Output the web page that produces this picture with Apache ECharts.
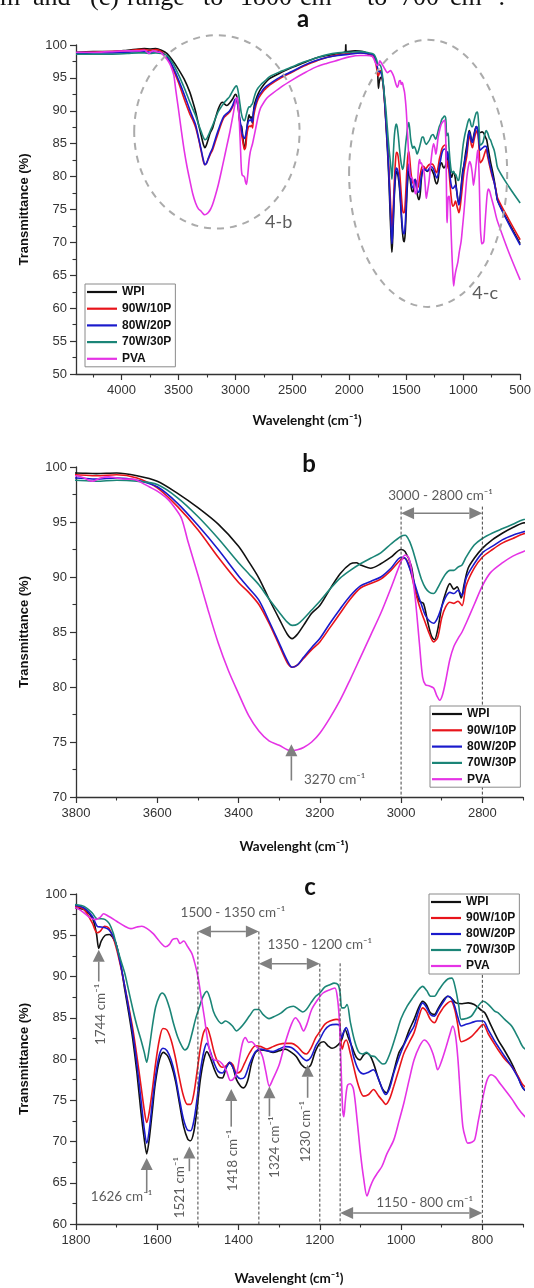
<!DOCTYPE html>
<html><head><meta charset="utf-8">
<script src="https://cdn.jsdelivr.net/npm/echarts@6/dist/echarts.min.js"></script>
<style>html,body{margin:0;padding:0;background:#fff}#c{width:534px;height:1288px}</style>
</head><body><div id="c"></div>
<script>
// ---------------- DATA ----------------
const seriesNames = ['WPI', '90W/10P', '80W/20P', '70W/30P', 'PVA'];
const seriesColors = ['#111111', '#e8141b', '#1a1acc', '#1b8577', '#e533e5'];

// [wavenumber (cm-1), transmittance (%)]
const WPI = [[4400,98.9],[4250,99.0],[4100,99.0],[3950,99.2],[3850,99.4],
[3800,99.45],[3750,99.4],[3700,99.45],[3650,99.2],[3600,98.7],[3550,97.6],[3500,96.3],[3450,94.8],[3400,92.8],[3375,91.4],[3350,89.9],[3325,88.0],[3300,86.2],[3280,84.8],[3268,84.4],[3255,84.8],[3240,85.6],[3220,86.7],[3200,87.4],[3175,88.9],[3150,90.3],[3125,91.2],[3110,91.3],[3100,91.1],[3075,90.8],[3050,91.2],[3025,91.8],[3000,92.5],[2990,92.3],[2975,91.0],[2965,88.8],[2955,87.8],[2945,87.6],[2935,86.0],[2925,84.6],[2918,84.3],[2910,85.2],[2900,87.3],[2890,88.6],[2880,89.4],[2870,88.9],[2862,89.1],[2852,88.1],[2845,89.3],[2835,90.8],[2820,91.7],[2800,92.6],[2775,93.4],[2750,94.0],[2725,94.5],[2700,94.9],
[2600,95.8],[2500,96.6],[2400,97.3],[2300,98.0],[2200,98.4],[2100,98.7],[2035,99.0],[2031,100.2],[2027,99.0],[1950,99.1],[1880,99.0],[1840,98.7],
[1800,98.3],[1780,98.1],[1760,97.1],[1750,95.3],[1744,93.4],[1738,94.3],[1728,95.0],[1718,95.1],[1708,94.6],[1700,93.7],[1690,91.5],[1680,88.4],[1670,85.5],[1660,82.3],[1650,78.3],[1640,73.5],[1632,70.3],[1626,68.5],[1620,70.2],[1612,73.8],[1605,77.0],[1595,79.8],[1585,80.8],[1575,80.4],[1565,79.2],[1555,77.3],[1545,74.5],[1535,71.8],[1525,70.3],[1518,70.1],[1510,71.2],[1502,74.0],[1494,77.5],[1485,80.0],[1478,80.9],[1470,80.2],[1460,78.8],[1450,77.8],[1440,77.7],[1430,79.0],[1422,79.5],[1414,79.0],[1405,77.5],[1395,76.7],[1388,76.5],[1378,77.3],[1368,79.5],[1358,80.8],[1345,81.1],[1330,81.0],[1315,80.8],[1300,81.0],[1285,81.2],[1270,80.8],[1258,80.3],[1245,79.3],[1233,78.9],[1222,79.3],[1212,80.8],[1200,81.9],[1190,82.1],[1180,81.6],[1170,81.3],[1160,81.5],[1150,82.0],[1145,82.5],[1138,83.6],[1130,82.6],[1121,81.5],[1110,80.2],[1101,79.9],[1092,80.5],[1084,80.7],[1076,80.4],[1068,79.5],[1055,77.5],[1045,76.3],[1036,75.9],[1028,76.8],[1018,78.5],[1005,80.8],[993,81.8],[980,83.5],[968,84.8],[957,86.2],[947,87.0],[938,86.6],[928,85.6],[918,85.4],[908,86.2],[895,87.2],[885,87.6],[875,87.3],[865,86.8],[850,86.7],[835,86.8],[820,86.6],[805,86.0],[794,85.6],[780,84.2],[761,82.3],[745,81.0],[728,79.5],[712,77.8],[697,76.3],
[600,73.0],[500,69.8]];

const W90P10 = [[4400,98.8],[4250,98.9],[4100,99.0],[3950,99.1],[3850,99.3],
[3800,99.3],[3750,99.2],[3700,99.3],[3650,99.0],[3600,98.1],[3550,96.4],[3500,94.3],[3450,91.8],[3400,89.5],[3375,88.6],[3350,87.5],[3325,85.8],[3300,83.8],[3280,82.2],[3268,81.8],[3255,82.0],[3240,82.6],[3220,83.4],[3200,84.1],[3175,85.4],[3150,86.7],[3125,88.0],[3100,89.0],[3075,89.4],[3050,89.8],[3025,90.6],[3000,91.6],[2990,91.7],[2980,91.0],[2970,89.5],[2960,88.0],[2950,86.8],[2940,85.8],[2930,84.8],[2920,84.1],[2910,84.5],[2900,86.3],[2890,87.3],[2880,87.7],[2870,87.6],[2860,87.8],[2850,87.4],[2840,89.2],[2820,90.8],[2800,91.8],[2775,92.5],[2750,93.1],[2725,93.5],[2700,93.9],
[2600,95.0],[2500,95.9],[2400,96.8],[2300,97.5],[2200,98.1],[2100,98.5],[2000,98.7],[1900,98.8],[1850,98.7],
[1800,98.5],[1780,98.1],[1760,96.5],[1748,95.3],[1740,95.5],[1730,96.1],[1720,95.9],[1710,94.9],[1700,93.3],[1690,91.2],[1680,88.8],[1670,86.3],[1660,83.6],[1650,80.3],[1640,76.7],[1632,73.8],[1626,72.3],[1620,73.5],[1612,76.3],[1604,79.5],[1595,82.3],[1586,83.7],[1576,83.5],[1566,82.3],[1556,80.3],[1546,77.8],[1536,75.6],[1526,74.5],[1518,74.5],[1510,75.8],[1502,78.5],[1494,81.3],[1486,83.2],[1478,83.8],[1470,82.8],[1460,80.8],[1450,79.5],[1440,79.0],[1430,79.2],[1422,79.6],[1414,79.3],[1405,78.3],[1395,78.5],[1385,79.5],[1372,80.8],[1358,81.6],[1345,81.5],[1330,81.2],[1315,81.5],[1300,81.8],[1285,81.9],[1270,81.9],[1255,81.5],[1242,80.8],[1233,80.6],[1222,81.3],[1210,82.6],[1200,83.3],[1188,84.2],[1175,84.6],[1160,84.8],[1152,84.7],[1148,82.0],[1145,81.2],[1140,82.0],[1135,82.3],[1125,80.7],[1117,79.1],[1105,76.8],[1092,75.5],[1080,75.7],[1068,76.3],[1055,75.5],[1045,74.9],[1038,74.5],[1028,75.2],[1018,76.7],[1005,78.8],[993,80.7],[980,82.0],[968,83.2],[957,85.0],[947,86.2],[938,85.8],[928,84.8],[918,84.4],[908,85.3],[895,86.3],[885,86.8],[877,87.0],[868,86.0],[860,84.0],[852,82.1],[840,82.3],[827,82.7],[812,83.5],[798,84.2],[785,83.0],[770,81.8],[761,81.1],[745,80.0],[728,79.1],[712,77.9],[697,76.7],
[600,73.5],[500,70.4]];

const W80P20 = [[4400,98.7],[4250,98.8],[4100,98.8],[3950,98.9],[3850,99.0],
[3800,99.0],[3750,98.9],[3700,99.0],[3650,98.8],[3600,98.2],[3550,96.7],[3500,94.7],[3450,92.5],[3400,90.1],[3375,89.0],[3350,87.9],[3325,86.0],[3300,84.0],[3280,82.4],[3268,81.8],[3255,82.0],[3240,82.7],[3220,83.6],[3200,84.4],[3175,85.8],[3150,87.1],[3125,88.3],[3100,89.2],[3075,89.6],[3050,90.0],[3025,90.8],[3000,91.8],[2990,91.7],[2980,90.9],[2970,89.8],[2960,88.6],[2950,87.5],[2940,86.5],[2930,86.0],[2920,85.8],[2910,86.3],[2900,87.3],[2890,88.2],[2880,88.6],[2870,88.5],[2860,88.8],[2850,88.3],[2840,89.9],[2820,91.2],[2800,92.2],[2775,92.8],[2750,93.4],[2725,93.8],[2700,94.1],
[2600,95.2],[2500,96.0],[2400,96.9],[2300,97.6],[2200,98.1],[2100,98.4],[2000,98.6],[1900,98.8],[1850,98.7],
[1800,98.6],[1780,98.3],[1760,97.3],[1748,96.1],[1738,96.0],[1728,95.9],[1718,95.6],[1708,94.8],[1700,93.7],[1690,91.4],[1680,88.8],[1670,86.0],[1660,83.0],[1650,79.3],[1640,75.0],[1632,71.5],[1626,69.8],[1620,71.3],[1612,74.8],[1604,78.0],[1595,80.5],[1586,81.3],[1576,81.0],[1566,79.9],[1556,78.0],[1546,75.3],[1536,72.8],[1526,71.4],[1518,71.3],[1510,72.5],[1502,75.2],[1494,78.5],[1485,81.0],[1478,81.9],[1470,81.0],[1460,79.5],[1450,78.5],[1440,78.3],[1430,79.0],[1422,79.6],[1414,79.0],[1405,78.0],[1395,77.6],[1385,77.8],[1372,79.5],[1358,80.9],[1345,81.2],[1330,81.0],[1315,80.9],[1300,81.2],[1285,81.5],[1270,81.4],[1255,80.8],[1242,80.1],[1233,79.8],[1222,80.2],[1210,81.6],[1200,82.4],[1188,83.5],[1175,84.1],[1160,84.2],[1152,84.1],[1147,82.5],[1142,83.2],[1135,83.8],[1125,82.2],[1117,80.3],[1105,78.7],[1092,78.2],[1080,78.4],[1068,78.7],[1055,77.5],[1045,76.2],[1038,75.7],[1028,76.5],[1018,78.3],[1005,80.2],[993,81.7],[980,83.0],[968,84.0],[957,85.8],[947,86.8],[938,86.3],[928,85.4],[918,85.2],[908,86.0],[895,87.0],[885,87.6],[877,87.4],[868,86.4],[860,85.0],[852,84.0],[840,84.2],[827,84.4],[812,84.6],[798,84.6],[785,83.5],[770,82.2],[761,81.5],[745,80.3],[728,79.1],[712,77.7],[697,76.3],
[600,72.8],[500,69.6]];

const W70P30 = [[4400,98.6],[4250,98.6],[4100,98.6],[3950,98.7],[3850,98.8],
[3800,98.8],[3750,98.7],[3700,98.8],[3650,98.7],[3600,98.4],[3550,97.2],[3500,95.5],[3450,93.5],[3400,91.3],[3375,90.3],[3350,89.3],[3325,88.0],[3300,86.8],[3280,85.9],[3268,85.6],[3255,85.7],[3240,86.2],[3220,87.0],[3200,87.8],[3175,88.9],[3150,89.9],[3125,90.6],[3100,91.2],[3075,91.7],[3050,92.2],[3025,93.0],[3000,93.7],[2990,93.8],[2980,93.3],[2970,92.3],[2960,91.0],[2950,89.8],[2940,89.0],[2930,88.6],[2920,88.5],[2910,89.0],[2900,89.7],[2890,90.3],[2880,90.6],[2870,90.6],[2860,90.9],[2850,91.1],[2840,91.8],[2820,92.9],[2800,93.5],[2775,94.0],[2750,94.4],[2725,94.8],[2700,95.2],
[2600,96.0],[2500,96.7],[2400,97.4],[2300,98.0],[2200,98.5],[2100,98.8],[2000,98.9],[1900,99.0],[1850,98.9],
[1800,98.7],[1780,98.5],[1760,97.7],[1748,97.0],[1738,97.0],[1728,96.9],[1718,96.4],[1708,95.2],[1700,93.7],[1690,92.0],[1680,90.4],[1670,88.2],[1660,86.0],[1650,84.0],[1640,82.3],[1632,80.8],[1626,79.6],[1620,81.2],[1612,84.0],[1604,86.3],[1595,87.6],[1588,88.0],[1580,87.6],[1570,86.2],[1560,84.3],[1550,82.7],[1540,81.6],[1532,81.1],[1524,81.5],[1515,83.0],[1506,84.8],[1497,86.2],[1488,87.5],[1478,88.2],[1470,87.3],[1462,85.8],[1452,84.8],[1442,84.3],[1432,84.6],[1424,84.4],[1415,84.0],[1405,83.4],[1395,83.8],[1385,84.4],[1372,85.3],[1360,86.0],[1350,86.0],[1340,85.4],[1325,84.9],[1310,85.2],[1295,85.6],[1280,86.2],[1265,86.4],[1252,86.0],[1242,85.7],[1233,86.0],[1222,86.8],[1210,87.6],[1200,88.0],[1188,88.7],[1175,89.0],[1165,89.2],[1155,89.0],[1150,88.0],[1146,86.2],[1140,86.2],[1133,86.6],[1125,84.5],[1115,82.3],[1105,80.9],[1095,80.6],[1085,80.8],[1075,80.4],[1065,80.3],[1055,79.8],[1045,79.4],[1038,79.5],[1025,81.0],[1012,83.0],[1000,84.9],[985,86.4],[970,87.5],[957,88.4],[947,88.8],[937,88.3],[927,87.6],[918,87.6],[908,88.3],[895,89.2],[885,89.7],[875,89.8],[866,88.5],[858,86.4],[852,84.8],[840,84.9],[827,85.2],[812,86.3],[798,87.0],[785,86.6],[770,85.8],[761,85.6],[745,84.8],[728,84.0],[712,82.6],[697,81.3],
[600,78.5],[500,76.0]];

const PVA = [[4400,98.9],[4250,98.9],[4100,99.0],[3950,99.1],[3850,99.1],
[3800,99.2],[3780,99.0],[3760,98.7],[3740,99.0],[3720,99.1],[3700,99.0],[3680,98.9],[3660,98.9],[3640,98.6],[3620,98.2],[3600,97.8],[3575,97.1],[3555,96.2],[3540,95.3],[3525,93.3],[3500,90.2],[3475,87.0],[3450,84.0],[3425,81.5],[3400,79.4],[3375,77.4],[3350,76.0],[3325,75.1],[3300,74.7],[3280,74.3],[3270,74.2],[3255,74.3],[3240,74.5],[3220,75.0],[3200,75.8],[3175,77.2],[3150,78.8],[3125,80.7],[3100,82.7],[3075,84.7],[3050,86.7],[3025,89.0],[3000,91.4],[2990,92.0],[2982,91.8],[2975,90.8],[2965,88.0],[2955,84.0],[2947,80.9],[2940,80.2],[2930,80.1],[2920,79.9],[2912,79.2],[2905,78.8],[2898,79.3],[2890,80.6],[2880,82.5],[2870,83.7],[2860,84.4],[2850,85.0],[2840,85.8],[2820,87.5],[2800,89.2],[2780,90.4],[2750,91.3],[2725,91.9],[2700,92.3],
[2600,93.6],[2500,94.7],[2400,95.7],[2300,96.6],[2200,97.2],[2100,97.7],[2000,98.2],[1900,98.4],[1850,98.4],
[1800,98.3],[1780,97.7],[1765,97.1],[1752,96.9],[1740,97.2],[1732,97.6],[1720,97.3],[1700,96.7],[1680,96.1],[1665,95.8],[1650,96.0],[1638,96.1],[1625,95.8],[1610,95.2],[1600,94.6],[1590,94.0],[1580,93.6],[1570,93.9],[1562,94.5],[1552,94.6],[1544,94.0],[1535,94.3],[1525,93.6],[1515,92.8],[1507,91.5],[1500,90.0],[1492,87.5],[1484,85.0],[1476,82.3],[1468,80.5],[1460,79.9],[1450,79.8],[1440,79.4],[1430,78.6],[1420,77.4],[1414,77.5],[1405,78.2],[1398,80.0],[1390,82.0],[1383,82.6],[1375,82.0],[1368,82.1],[1358,81.6],[1350,81.2],[1341,80.3],[1333,78.5],[1324,76.7],[1316,77.5],[1300,79.3],[1285,82.0],[1270,84.2],[1260,85.0],[1250,84.4],[1240,83.4],[1232,84.2],[1220,86.0],[1205,87.2],[1192,88.0],[1175,88.4],[1163,88.6],[1157,87.5],[1152,84.8],[1148,79.5],[1144,74.0],[1141,73.0],[1137,75.0],[1132,76.8],[1125,77.0],[1117,76.3],[1108,72.5],[1100,68.6],[1092,65.5],[1084,63.4],[1076,64.5],[1068,65.4],[1058,66.2],[1047,67.0],[1035,68.5],[1018,70.2],[1005,72.5],[993,74.7],[980,77.5],[968,79.9],[955,81.5],[943,82.3],[932,81.8],[922,80.7],[915,79.5],[910,78.7],[900,79.8],[889,81.5],[880,83.0],[873,84.0],[866,82.8],[860,79.9],[854,75.5],[848,71.8],[842,70.5],[836,69.8],[826,69.9],[819,70.2],[810,72.5],[798,75.5],[788,77.5],[778,78.1],[768,77.8],[756,77.0],[745,76.3],[728,75.2],[712,74.0],[697,73.1],
[600,68.5],[500,64.3]];

const allSeries = [WPI, W90P10, W80P20, W70P30, PVA];

// axis ranges and tick labels per panel (a, b, c)
const xRanges = [[500, 4400], [2700, 3800], [700, 1800]];
const yRanges = [[50, 100], [70, 100], [60, 100]];
const xMajorTicks = [
  [500, 1000, 1500, 2000, 2500, 3000, 3500, 4000],
  [2800, 3000, 3200, 3400, 3600, 3800],
  [800, 1000, 1200, 1400, 1600, 1800]];
const xMinorTicks = [
  [750, 1250, 1750, 2250, 2750, 3250, 3750, 4250],
  [2700, 2900, 3100, 3300, 3500, 3700],
  [700, 900, 1100, 1300, 1500, 1700]];
const panelLetters = ['a', 'b', 'c'];
const xTitle = 'Wavelenght (cm\u207B\u00B9)';
const yTitle = 'Transmittance (%)';

// annotations (data units)
const ellipsesA = [[3163, 86.8, 726, 14.7], [1308, 80.5, 694, 20.3]];
const ellipseLabelsA = [['4-b', 2620, 73.1], ['4-c', 807, 62.3]];
// [panel, from cm-1, to cm-1, arrow level %, label, label cm-1, label level %]
const rangeArrows = [
  [1, 3000, 2800, 95.8, '3000 - 2800 cm\u207B\u00B9', 2903, 97.4],
  [2, 1500, 1350, 95.45, '1500 - 1350 cm\u207B\u00B9', 1414, 97.7],
  [2, 1350, 1200, 91.55, '1350 - 1200 cm\u207B\u00B9', 1200, 93.85],
  [2, 1150, 800, 61.33, '1150 - 800 cm\u207B\u00B9', 942, 62.55]];
// [panel, cm-1, top level %] dashed guide down to axis
const guideLines = [[1, 3000, 96.4], [1, 2800, 96.4], [2, 1500, 95.45], [2, 1350, 95.45], [2, 1200, 91.55], [2, 1150, 91.6], [2, 800, 90.2]];
// [panel, cm-1, tip %, tail %, label, label cm-1, label %, placement]
const peakArrows = [
  [1, 3270, 74.8, 71.5, '3270 cm\u207B\u00B9', 3239, 71.6, 'left'],
  [2, 1744, 93.25, 89.4, '1744 cm\u207B\u00B9', 1739, 85.4, 'rot'],
  [2, 1626, 68.0, 63.75, '1626 cm\u207B\u00B9', 1688, 63.35, 'center'],
  [2, 1521, 69.4, 66.4, '1521 cm\u207B\u00B9', 1544, 64.4, 'rot'],
  [2, 1418, 76.36, 71.8, '1418 cm\u207B\u00B9', 1415, 67.7, 'rot'],
  [2, 1324, 76.7, 73.05, '1324 cm\u207B\u00B9', 1312, 69.3, 'rot'],
  [2, 1230, 79.3, 75.3, '1230 cm\u207B\u00B9', 1234, 71.2, 'rot']];
const captionWords = [['m\u207B\u00B9', 0], ['and', 33], ['(c)', 90], ['range', 127], ['to', 203], ['1800', 240], ['cm\u207B\u00B9', 300], ['to', 367], ['700', 400], ['cm\u207B\u00B9.', 450]];

// ---------------- LAYOUT ----------------
const grids = [
  {left: 76, right: 12, top: 45, height: 329},
  {left: 76, right: 11, top: 467, height: 330},
  {left: 76, right: 11, top: 894, height: 330}];
const xNameGap = [40, 43, 48];
const xNamePad = [[0, 0, 0, 18], [0, 11, 0, 0], [0, 21, 0, 0]];
const legendPos = [[85, 284, 4.7], [430, 706, 4.3], [429, 894, 4.0]];
const letterPos = [[303, 19.5], [309, 464], [310, 887.5]];

const AX = '#333';
const plain = v => String(v);
const xAxes = [], yAxes = [];
for (let g = 0; g < 3; g++) {
  xAxes.push({
    type: 'value', gridIndex: g, min: xRanges[g][0], max: xRanges[g][1], inverse: true, position: 'bottom',
    axisLine: {show: true, onZero: false, lineStyle: {color: AX, width: 1.3}},
    axisTick: {show: true, length: 6, customValues: xMajorTicks[g], lineStyle: {color: AX, width: 1.2}},
    axisLabel: {customValues: xMajorTicks[g], formatter: plain, margin: 10, fontFamily: 'Liberation Sans', fontSize: 13, color: '#333'},
    splitLine: {show: false},
    name: xTitle, nameLocation: 'middle', nameGap: xNameGap[g],
    nameTextStyle: {fontFamily: 'Lato', fontWeight: 'bold', fontSize: 13.5, color: '#111', padding: xNamePad[g]}
  });
  xAxes.push({
    type: 'value', gridIndex: g, min: xRanges[g][0], max: xRanges[g][1], inverse: true, position: 'bottom',
    axisLine: {show: false, onZero: false},
    axisTick: {show: true, length: 3.5, customValues: xMinorTicks[g], lineStyle: {color: AX, width: 1.1}},
    axisLabel: {show: false}, splitLine: {show: false}
  });
  yAxes.push({
    type: 'value', gridIndex: g, min: yRanges[g][0], max: yRanges[g][1], interval: 5,
    axisLine: {show: true, onZero: false, lineStyle: {color: AX, width: 1.3}},
    axisTick: {show: true, length: 6, lineStyle: {color: AX, width: 1.2}},
    minorTick: {show: true, splitNumber: 2, length: 3.5, lineStyle: {color: AX, width: 1.1}},
    axisLabel: {margin: 9, formatter: plain, fontFamily: 'Liberation Sans', fontSize: 13, color: '#333'},
    splitLine: {show: false}, minorSplitLine: {show: false},
    name: yTitle, nameLocation: 'middle', nameGap: 45,
    nameTextStyle: {fontFamily: 'Liberation Sans', fontWeight: 'bold', fontSize: 13, color: '#111'}
  });
}

const series = [];
for (let g = 0; g < 3; g++) {
  for (let s = 0; s < 5; s++) {
    series.push({
      type: 'line', name: seriesNames[s], xAxisIndex: 2 * g, yAxisIndex: g,
      data: allSeries[s], symbol: 'none', showSymbol: false, smooth: 0.3, clip: true,
      lineStyle: {color: seriesColors[s], width: 1.6}, itemStyle: {color: seriesColors[s]},
      emphasis: {disabled: true}, z: 2
    });
  }
}

const legends = legendPos.map(p => ({
  orient: 'vertical', left: p[0], top: p[1], itemWidth: 30, itemHeight: 14, itemGap: p[2],
  padding: [2, 4, 2, 2], borderColor: '#8a8a8a', borderWidth: 1, backgroundColor: '#fff',
  data: seriesNames, selectedMode: false, z: 6,
  icon: 'path://M0,0H30V2.2H0Z', symbolKeepAspect: true,
  textStyle: {fontFamily: 'Liberation Sans', fontWeight: 'bold', fontSize: 12, color: '#111'}
}));

const chart = echarts.init(document.getElementById('c'), null, {renderer: 'canvas', width: 534, height: 1288});
chart.setOption({
  animation: false, backgroundColor: '#fff', color: seriesColors,
  grid: grids, xAxis: xAxes, yAxis: yAxes, legend: legends, series: series
});

// ---------------- ANNOTATIONS (positioned through the axes) ----------------
const P = (g, w, t) => chart.convertToPixel({xAxisIndex: 2 * g, yAxisIndex: g}, [w, t]);
const ARROW = '#808080', NOTE = '#5c5c5c';
const G = [];
function seg(p, q, dashed) {
  G.push({type: 'line', z: 3, shape: {x1: p[0], y1: p[1], x2: q[0], y2: q[1]},
    style: dashed ? {stroke: '#444', lineWidth: 1, lineDash: [3, 2]} : {stroke: ARROW, lineWidth: 1.6}});
}
function head(tip, from, hl, hw) {
  const dx = tip[0] - from[0], dy = tip[1] - from[1], L = Math.hypot(dx, dy), ux = dx / L, uy = dy / L;
  const bx = tip[0] - ux * hl, by = tip[1] - uy * hl;
  G.push({type: 'polygon', z: 3, shape: {points: [[tip[0], tip[1]], [bx - uy * hw, by + ux * hw], [bx + uy * hw, by - ux * hw]]}, style: {fill: ARROW}});
  return [bx, by];
}
function label(str, p, align, rot, font, color) {
  G.push({type: 'text', z: 3, x: p[0], y: p[1], rotation: rot ? Math.PI / 2 : 0,
    style: {text: str, font: font || '13.5px Lato', fill: color || NOTE, align: align, textAlign: align, verticalAlign: 'middle', textVerticalAlign: 'middle'}});
}
ellipsesA.forEach(e => {
  const c = P(0, e[0], e[1]), r = P(0, e[0] - e[2], e[1] + e[3]);
  G.push({type: 'ellipse', z: 3, shape: {cx: c[0], cy: c[1], rx: Math.abs(r[0] - c[0]), ry: Math.abs(c[1] - r[1])},
    style: {fill: null, stroke: '#ababab', lineWidth: 2, lineDash: [7, 6]}});
});
ellipseLabelsA.forEach(l => label(l[0], P(0, l[1], l[2]), 'center', false, '18px Lato', '#5c5c5c'));
guideLines.forEach(v => seg(P(v[0], v[1], v[2]), P(v[0], v[1], yRanges[v[0]][0]), true));
rangeArrows.forEach(r => {
  const a = P(r[0], r[1], r[3]), b = P(r[0], r[2], r[3]);
  const ba = head(a, b, 13, 6), bb = head(b, a, 13, 6);
  seg(ba, bb, false);
  label(r[4], P(r[0], r[5], r[6]), 'center', false);
});
peakArrows.forEach(r => {
  const tip = P(r[0], r[1], r[2]), tail = P(r[0], r[1], r[3]);
  const base = head(tip, tail, 12, 6);
  seg(tail, base, false);
  const pos = P(r[0], r[5], r[6]);
  if (r[7] === 'rot') label(r[4], pos, 'center', true);
  else label(r[4], pos, r[7], false);
});
letterPos.forEach((p, i) => label(panelLetters[i], p, 'center', false, 'bold 24px Lato', '#111'));
captionWords.forEach(w => label(w[0], [w[1], -1.5], 'left', false, '26px "Liberation Serif"', '#111'));

chart.setOption({graphic: {elements: G}});
</script>
</body></html>
